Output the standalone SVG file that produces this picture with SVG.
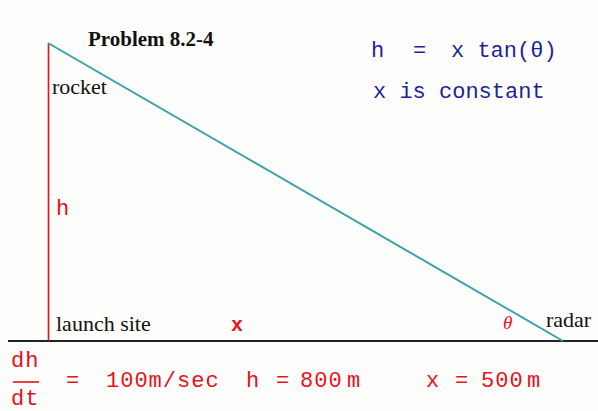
<svg xmlns="http://www.w3.org/2000/svg" width="598" height="411" viewBox="0 0 598 411">
<style>
.serif{font-family:"Liberation Serif","Times New Roman",serif;font-size:22px;fill:#111}
.mono{font-family:"Liberation Mono","Courier New",monospace}
.red{fill:#e8101a}
.blue{fill:#1f1f9c;font-size:22px}
.rmono{font-size:22px;letter-spacing:1px}
</style>
<rect width="598" height="411" fill="#fdfdfb"/>
<g id="connectors">
<line x1="8" y1="341" x2="598" y2="341" stroke="#222" stroke-width="2"/>
<line x1="48.5" y1="43" x2="48.5" y2="341" stroke="#e8101a" stroke-width="1.6"/>
<line x1="48" y1="43" x2="563" y2="341" stroke="#3aa3aa" stroke-width="2"/>
</g>
<g id="title"><text x="88" y="46" class="serif" style="font-weight:bold;font-size:21px">Problem 8.2-4</text></g>
<g id="rocket"><text x="52" y="94" class="serif">rocket</text></g>
<g id="launch"><text x="56" y="331" class="serif">launch site</text></g>
<g id="radar"><text x="546" y="327" class="serif">radar</text></g>
<g id="h-label"><text x="56" y="215" class="mono red rmono">h</text></g>
<g id="x-label"><text x="231" y="331" class="mono red" style="font-size:20px;font-weight:bold">x</text></g>
<g id="theta"><text x="503" y="329" class="red" style="font-family:'Liberation Serif',serif;font-style:italic;font-size:19px">θ</text></g>
<g id="eq1">
<text y="57" class="mono blue"><tspan x="371">h</tspan><tspan x="413">=</tspan><tspan x="451">x tan(θ)</tspan></text>
</g>
<g id="eq2"><text x="373" y="98" class="mono blue">x is constant</text></g>
<g id="given">
<text x="11" y="367" class="mono red rmono">dh</text>
<line x1="13" y1="382" x2="39" y2="382" stroke="#e8101a" stroke-width="1.6"/>
<text x="11" y="405" class="mono red rmono">dt</text>
<text x="66" y="387" class="mono red rmono">=</text>
<text x="106" y="387" class="mono red rmono">100m/sec</text>
<text x="246" y="387" class="mono red rmono">h</text>
<text x="276" y="387" class="mono red rmono">=</text>
<text x="300" y="387" class="mono red rmono">800</text>
<text x="347" y="387" class="mono red rmono">m</text>
<text x="426" y="387" class="mono red rmono">x</text>
<text x="455" y="387" class="mono red rmono">=</text>
<text x="481" y="387" class="mono red rmono">500</text>
<text x="527" y="387" class="mono red rmono">m</text>
</g>
</svg>
